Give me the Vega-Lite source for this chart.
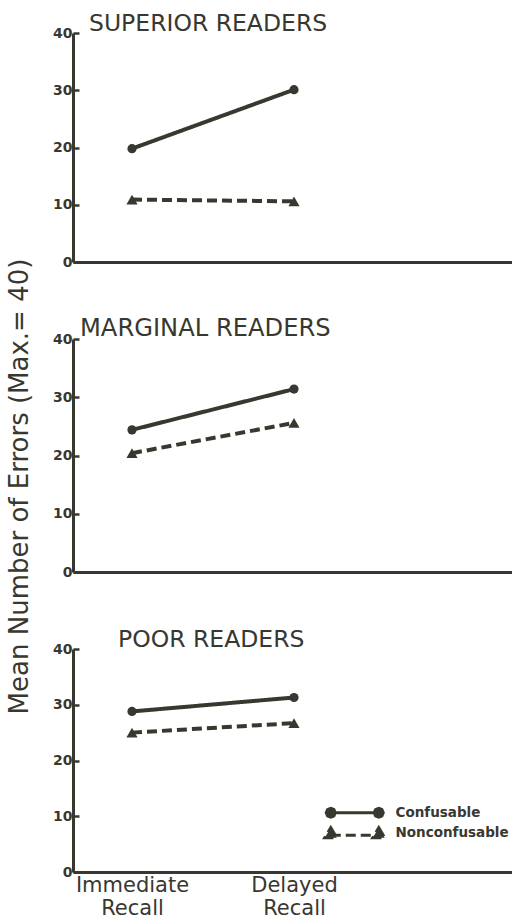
{
  "$schema": "https://vega.github.io/schema/vega-lite/v6.json",
  "background": "white",
  "padding": {"left": 6, "top": 11, "right": 0, "bottom": 1},
  "config": {
    "view": {"stroke": null},
    "font": "DejaVu Sans",
    "axis": {"domainColor": "#383830", "domainWidth": 3, "tickColor": "#383830", "tickWidth": 2.5, "labelColor": "#383830", "titleColor": "#383830", "grid": false, "labelFont": "DejaVu Sans", "titleFont": "DejaVu Sans"},
    "title": {"font": "DejaVu Sans", "fontSize": 23.5, "fontWeight": "normal", "color": "#383830", "anchor": "start", "frame": "group", "baseline": "alphabetic", "offset": -9}
  },
  "datasets": {
    "errors": [
      {"group": "Superior", "time": "Immediate", "series": "Confusable", "errors": 19.8},
      {"group": "Superior", "time": "Delayed", "series": "Confusable", "errors": 30.1},
      {"group": "Superior", "time": "Immediate", "series": "Nonconfusable", "errors": 10.9},
      {"group": "Superior", "time": "Delayed", "series": "Nonconfusable", "errors": 10.6},
      {"group": "Marginal", "time": "Immediate", "series": "Confusable", "errors": 24.4},
      {"group": "Marginal", "time": "Delayed", "series": "Confusable", "errors": 31.4},
      {"group": "Marginal", "time": "Immediate", "series": "Nonconfusable", "errors": 20.4},
      {"group": "Marginal", "time": "Delayed", "series": "Nonconfusable", "errors": 25.6},
      {"group": "Poor", "time": "Immediate", "series": "Confusable", "errors": 28.8},
      {"group": "Poor", "time": "Delayed", "series": "Confusable", "errors": 31.3},
      {"group": "Poor", "time": "Immediate", "series": "Nonconfusable", "errors": 25.0},
      {"group": "Poor", "time": "Delayed", "series": "Nonconfusable", "errors": 26.7}
    ]
  },
  "spacing": 77,
  "bounds": "flush",
  "resolve": {"legend": {"strokeDash": "independent", "shape": "independent"}},
  "vconcat": [
    {
      "width": 439, "height": 229,
      "title": {"text": "SUPERIOR READERS", "dx": 16},
      "data": {"name": "errors"},
      "transform": [{"filter": "datum.group === 'Superior'"}],
      "encoding": {
        "x": {"field": "time", "type": "nominal", "sort": ["Immediate", "Delayed"], "scale": {"type": "point", "domain": ["Immediate", "Delayed"], "padding": 0.855, "align": 0.213}, "axis": {"labels": false, "ticks": false, "title": null}},
        "y": {"field": "errors", "type": "quantitative", "scale": {"domain": [0, 40], "nice": false}, "axis": {"values": [0, 10, 20, 30, 40], "tickSize": -6, "labelPadding": 7, "labelFontSize": 14, "labelFontWeight": "bold", "title": "Mean Number of Errors (Max.= 40)", "titleFontSize": 26, "titleFontWeight": "normal", "titlePadding": 20, "titleY": 453}}
      },
      "layer": [
        {"mark": {"type": "line", "strokeWidth": 4, "color": "#383830"},
         "encoding": {"strokeDash": {"field": "series", "type": "nominal", "scale": {"domain": ["Confusable", "Nonconfusable"], "range": [[1, 0], [10, 5]]}, "legend": null}}},
        {"mark": {"type": "point", "filled": true, "opacity": 1, "color": "#383830", "size": 90},
         "encoding": {"shape": {"field": "series", "type": "nominal", "scale": {"domain": ["Confusable", "Nonconfusable"], "range": ["circle", "triangle-up"]}, "legend": null},
                      "size": {"field": "series", "type": "nominal", "scale": {"domain": ["Confusable", "Nonconfusable"], "range": [85, 125]}, "legend": null}}}
      ]
    },
    {
      "width": 439, "height": 233,
      "title": {"text": "MARGINAL READERS", "dx": 7, "fontSize": 24.2},
      "data": {"name": "errors"},
      "transform": [{"filter": "datum.group === 'Marginal'"}],
      "encoding": {
        "x": {"field": "time", "type": "nominal", "sort": ["Immediate", "Delayed"], "scale": {"type": "point", "domain": ["Immediate", "Delayed"], "padding": 0.855, "align": 0.213}, "axis": {"labels": false, "ticks": false, "title": null}},
        "y": {"field": "errors", "type": "quantitative", "scale": {"domain": [0, 40], "nice": false}, "axis": {"values": [0, 10, 20, 30, 40], "tickSize": -6, "labelPadding": 7, "labelFontSize": 14, "labelFontWeight": "bold", "title": null}}
      },
      "layer": [
        {"mark": {"type": "line", "strokeWidth": 4, "color": "#383830"},
         "encoding": {"strokeDash": {"field": "series", "type": "nominal", "scale": {"domain": ["Confusable", "Nonconfusable"], "range": [[1, 0], [10, 5]]}, "legend": null}}},
        {"mark": {"type": "point", "filled": true, "opacity": 1, "color": "#383830", "size": 90},
         "encoding": {"shape": {"field": "series", "type": "nominal", "scale": {"domain": ["Confusable", "Nonconfusable"], "range": ["circle", "triangle-up"]}, "legend": null},
                      "size": {"field": "series", "type": "nominal", "scale": {"domain": ["Confusable", "Nonconfusable"], "range": [85, 125]}, "legend": null}}}
      ]
    },
    {
      "width": 439, "height": 223,
      "title": {"text": "POOR READERS", "dx": 45},
      "data": {"name": "errors"},
      "transform": [{"filter": "datum.group === 'Poor'"}],
      "encoding": {
        "x": {"field": "time", "type": "nominal", "sort": ["Immediate", "Delayed"], "scale": {"type": "point", "domain": ["Immediate", "Delayed"], "padding": 0.855, "align": 0.213}, "axis": {"ticks": false, "title": null, "labelAngle": 0, "labelFontSize": 21, "labelFontWeight": "normal", "labelLineHeight": 23, "labelPadding": 2, "labelBaseline": "top", "labelExpr": "datum.value === 'Immediate' ? ['Immediate', 'Recall'] : ['Delayed', 'Recall']"}},
        "y": {"field": "errors", "type": "quantitative", "scale": {"domain": [0, 40], "nice": false}, "axis": {"values": [0, 10, 20, 30, 40], "tickSize": -6, "labelPadding": 7, "labelFontSize": 14, "labelFontWeight": "bold", "title": null}}
      },
      "layer": [
        {"mark": {"type": "line", "strokeWidth": 4, "color": "#383830"},
         "encoding": {"strokeDash": {"field": "series", "type": "nominal", "scale": {"domain": ["Confusable", "Nonconfusable"], "range": [[1, 0], [10, 5]]},
           "legend": {"title": null, "orient": "none", "legendX": 251, "legendY": 157, "symbolSize": 100, "symbolStrokeWidth": 3, "symbolStrokeColor": "#383830", "symbolFillColor": "#383830", "labelFont": "DejaVu Sans", "labelFontWeight": "bold", "labelFontSize": 13.5, "labelColor": "#383830", "labelOffset": 58, "rowPadding": -2.5,
             "encode": {"symbols": {"update": {"shape": {"signal": "datum.value === 'Confusable' ? 'M0,0L9.6,0M0.9,0L0.64,0.64L0,0.9L-0.64,0.64L-0.9,0L-0.64,-0.64L0,-0.9L0.64,-0.64ZM10.5,0L10.24,0.64L9.6,0.9L8.96,0.64L8.7,0L8.96,-0.64L9.6,-0.9L10.24,-0.64Z' : 'M0,0.4L9.6,0.4M0,-1.1L1.2,0.9L-1.2,0.9ZM9.6,-1.1L10.8,0.9L8.4,0.9Z'"}, "fill": {"value": "#383830"}, "stroke": {"value": "#383830"}}}}}}}},
        {"transform": [{"filter": "datum.series === 'Confusable'"}],
         "mark": {"type": "point", "shape": "circle", "filled": true, "opacity": 1, "color": "#383830", "size": 85}},
        {"transform": [{"filter": "datum.series === 'Nonconfusable'"}],
         "mark": {"type": "point", "shape": "triangle-up", "filled": true, "opacity": 1, "color": "#383830", "size": 125}}
      ]
    }
  ]
}
